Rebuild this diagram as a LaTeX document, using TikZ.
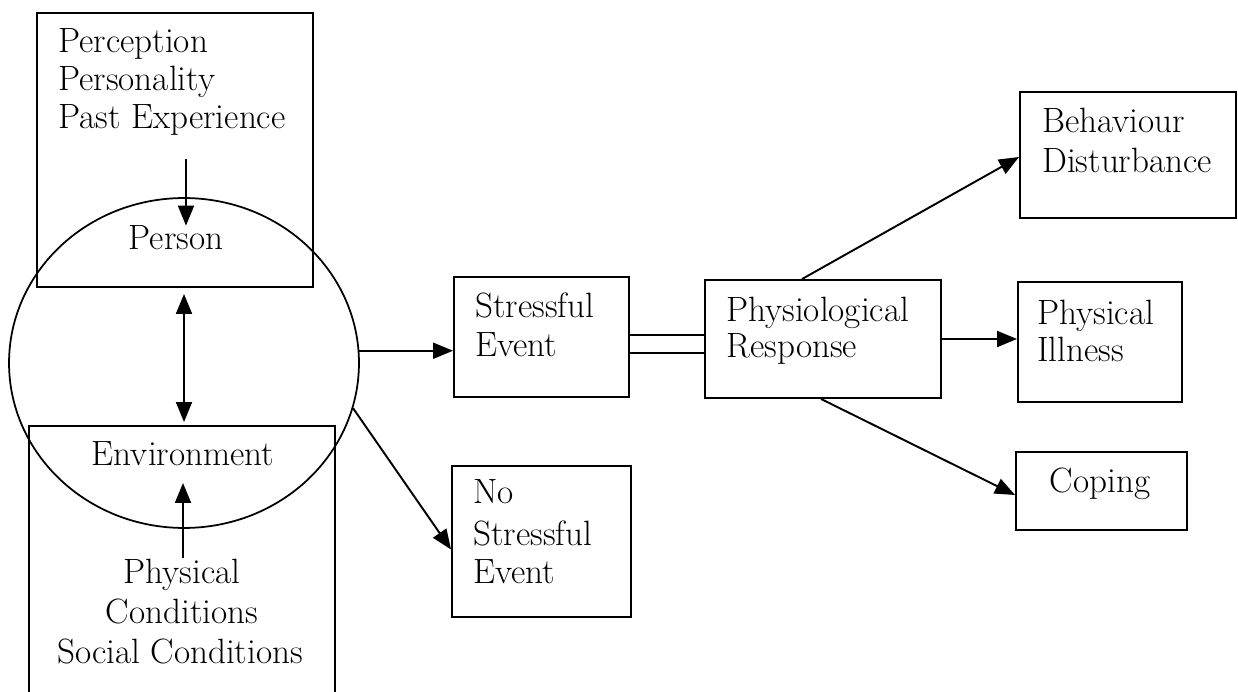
\documentclass[tikz,border=0pt]{standalone}
\usetikzlibrary{arrows.meta,fit,shapes.geometric,calc}
\begin{document}
\begin{tikzpicture}[x=0.02cm, y=-0.02cm,
  box/.style={draw, line width=1.1pt, inner sep=0pt, rectangle},
  lbl/.style={font=\fontsize{20}{24}\selectfont, inner sep=0pt},
  arr/.style={line width=1.1pt, -{Triangle[length=0.4cm,width=0.32cm]}},
  biarr/.style={line width=1.1pt, {Triangle[length=0.4cm,width=0.32cm]}-{Triangle[length=0.4cm,width=0.32cm]}},
  ln/.style={line width=1.1pt}]
\clip (0,0) rectangle (1238,692);

% person / environment block
\node[box, fit={(37,13)(313,287)}] (tb) {};
\node[box, fit={(29,426)(335,720)}] (bb) {};
\node[draw, ellipse, line width=1pt, minimum width=7cm, minimum height=6.6cm, inner sep=0pt] (pe) at (184,363) {};

\node[lbl, anchor=base west] (p1) at (58,53) {Perception};
\node[lbl, anchor=base west] (p2) at (58,91) {Personality};
\node[lbl, anchor=base west] (p3) at (58,129) {Past Experience};
\node[lbl, anchor=base] (person) at (176,250) {Person};
\node[lbl, anchor=base] (env) at (183,466) {Environment};
\node[lbl, anchor=base] (c1) at (182,583) {Physical};
\node[lbl, anchor=base] (c2) at (182,623) {Conditions};
\node[lbl, anchor=base] (c3) at (180,663) {Social Conditions};

% event boxes
\node[box, fit={(454,277)(629,397)}] (se) {};
\node[lbl, anchor=base west] (se1) at (475,318) {Stressful};
\node[lbl, anchor=base west] (se2) at (475,357) {Event};

\node[box, fit={(452,466)(631,617)}] (nse) {};
\node[lbl, anchor=base west] (nse1) at (473,503) {No};
\node[lbl, anchor=base west] (nse2) at (473,545) {Stressful};
\node[lbl, anchor=base west] (nse3) at (473,583) {Event};

% response and outcomes
\node[box, fit={(705,280)(941,398)}] (pr) {};
\node[lbl, anchor=base west] (pr1) at (726,322) {Physiological};
\node[lbl, anchor=base west] (pr2) at (726,358) {Response};

\node[box, fit={(1020,92)(1236,218)}] (bd) {};
\node[lbl, anchor=base west] (bd1) at (1042,133) {Behaviour};
\node[lbl, anchor=base west] (bd2) at (1042,173) {Disturbance};

\node[box, fit={(1018,282)(1182,402)}] (pi) {};
\node[lbl, anchor=base west] (pi1) at (1037,325) {Physical};
\node[lbl, anchor=base west] (pi2) at (1037,362) {Illness};

\node[box, fit={(1016,452)(1187,530)}] (cp) {};
\node[lbl, anchor=base] (cp1) at (1100,493) {Coping};

% connectors
\coordinate (pin) at (186,159);
\draw[arr] (pin) -- (pin |- person.north);
\draw[biarr] ($(pe.center |- tb.south)+(0,6)$) -- ($(pe.center |- bb.north)+(0,-3)$);
\coordinate (envin) at (183,483);
\draw[arr] (envin |- c1.north) -- (envin);

\draw[arr] (pe.4) -- (pe.4 -| se.west);
\draw[arr] (pe.-15) -- ($(nse.west)+(0,8)$);

\coordinate (d1) at (0,335);
\coordinate (d2) at (0,353);
\draw[ln] (se.east |- d1) -- (pr.west |- d1);
\draw[ln] (se.east |- d2) -- (pr.west |- d2);

\draw[arr] ($(pr.north west)+(98,0)$) -- ($(bd.west)+(0,2)$);
\draw[arr] (pr.east) -- (pr.east -| pi.west);
\draw[arr] ($(pr.south west)+(117,0)$) -- ($(cp.west)+(0,4)$);
\end{tikzpicture}
\end{document}
